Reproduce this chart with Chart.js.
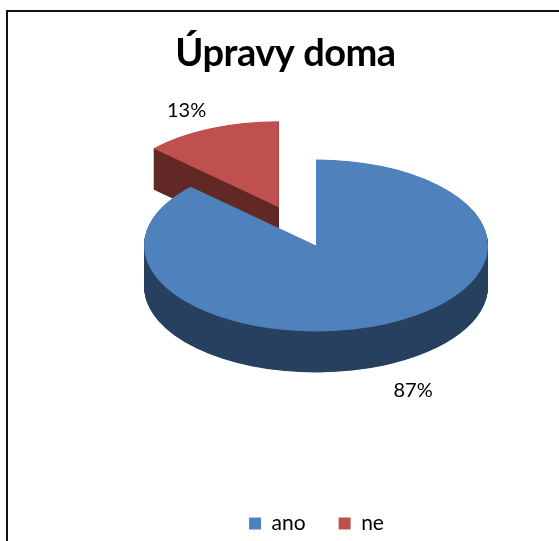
<!DOCTYPE html>
<html>
<head>
<meta charset="utf-8">
<title>Úpravy doma</title>
<style>
  html, body { margin: 0; padding: 0; background: #fff; }
  canvas { display: block; }
</style>
<script src="https://cdn.jsdelivr.net/npm/chart.js@4"></script>
</head>
<body>
<canvas id="canvasPie" width="559" height="541"></canvas>
<script>
const categories = ['ano', 'ne'];
const percents = [87, 13];
const topColors = ['#4f81bd', '#c0504d'];
const wallColors = ['#27405f', '#612826'];

// tilted pie: the round pie gets squashed and stacked to look like a thick disc
const pieX = 316, pieY = 245.5, squash = 0.5, depth = 41, radius = 172;
// only "ne" is pulled out of the pie
const pulled = [0, 85];
const pullTilt = -0.045;
const labelRadius = 232;
const labelNudge = [{ x: 5, y: -2 }, { x: 0, y: 10 }];

function arcMid(arc) {
    return (arc.startAngle + arc.endAngle) / 2;
}

function pullOffset(arc, i) {
    const a = arcMid(arc) + pullTilt;
    return { x: Math.cos(a) * pulled[i], y: Math.sin(a) * pulled[i] };
}

function drawTilted(ctx, arc, off, d) {
    ctx.save();
    ctx.translate(pieX, pieY + d);
    ctx.scale(1, squash);
    ctx.translate(off.x - arc.x, off.y - arc.y);
    arc.draw(ctx);
    ctx.restore();
}

const pie3d = {
    id: 'pie3d',
    afterLayout(chart) {
        // legend sits under the pie, title stays nearer the middle of the frame
        chart.legend.left += 37;
        chart.legend.right += 37;
        chart.legend.top += 3;
        chart.legend.bottom += 3;
        chart.titleBlock.left += 6;
        chart.titleBlock.right += 6;
        if (!chart.titleBlock.spaced) {
            const drawTitle = chart.titleBlock.draw;
            chart.titleBlock.draw = function () {
                chart.ctx.save();
                chart.ctx.letterSpacing = '-0.5px';
                drawTitle.apply(this, arguments);
                chart.ctx.restore();
            };
            chart.titleBlock.spaced = true;
        }
    },
    beforeDraw(chart) {
        const ctx = chart.ctx;
        ctx.save();
        ctx.fillStyle = '#fff';
        ctx.fillRect(0, 0, chart.width, chart.height);
        // frame, open on the right and at the bottom
        ctx.strokeStyle = '#111';
        ctx.lineWidth = 2;
        ctx.beginPath();
        ctx.moveTo(7, chart.height);
        ctx.lineTo(7, 11);
        ctx.lineTo(chart.width, 11);
        ctx.stroke();
        ctx.restore();
    },
    beforeDatasetsDraw(chart) {
        const ctx = chart.ctx;
        const arcs = chart.getDatasetMeta(0).data;
        // back slice first so the big one covers its wall
        for (let i = arcs.length - 1; i >= 0; i--) {
            const arc = arcs[i];
            const off = pullOffset(arc, i);

            // stack the wall on its own layer, then flood it with one colour:
            // hundreds of antialiased edges on the main canvas drift the colour into stripes
            const layer = document.createElement('canvas');
            layer.width = chart.width;
            layer.height = chart.height;
            const lctx = layer.getContext('2d');
            for (let d = depth; d > 0; d -= 0.5) {
                drawTilted(lctx, arc, off, d);
            }
            lctx.globalCompositeOperation = 'source-in';
            lctx.fillStyle = wallColors[i];
            lctx.fillRect(0, 0, layer.width, layer.height);
            ctx.drawImage(layer, 0, 0);

            drawTilted(ctx, arc, off, 0);
        }
        return false;
    },
    afterDraw(chart) {
        // value labels, outside each slice
        const ctx = chart.ctx;
        const arcs = chart.getDatasetMeta(0).data;
        ctx.save();
        ctx.font = '20px Lato';
        ctx.fillStyle = '#000';
        ctx.textAlign = 'center';
        ctx.textBaseline = 'middle';
        arcs.forEach(function (arc, i) {
            const a = arcMid(arc);
            const off = pullOffset(arc, i);
            const x = pieX + off.x + Math.cos(a) * labelRadius + labelNudge[i].x;
            let y = pieY + (off.y + Math.sin(a) * labelRadius) * squash + labelNudge[i].y;
            if (Math.sin(a) > 0) y += depth;
            ctx.fillText(percents[i] + '%', x, y);
        });
        ctx.restore();
    }
};

const ctx = document.getElementById('canvasPie').getContext('2d');
const config = {
    type: 'pie',
    data: {
        labels: categories,
        datasets: [{
            data: percents,
            backgroundColor: topColors,
            borderWidth: 0,
            radius: radius
        }]
    },
    options: {
        responsive: false,
        animation: false,
        plugins: {
            title: {
                display: true,
                text: 'Úpravy doma',
                color: '#000',
                font: { family: 'Lato', size: 38, weight: 'bold' },
                padding: { top: 31, bottom: 10 }
            },
            legend: {
                position: 'bottom',
                labels: {
                    color: '#000',
                    font: { family: 'Lato', size: 21 },
                    boxWidth: 12,
                    boxHeight: 12,
                    padding: 33
                }
            },
            tooltip: { enabled: false }
        }
    },
    plugins: [pie3d]
};

const chart = new Chart(ctx, config);
</script>
</body>
</html>
